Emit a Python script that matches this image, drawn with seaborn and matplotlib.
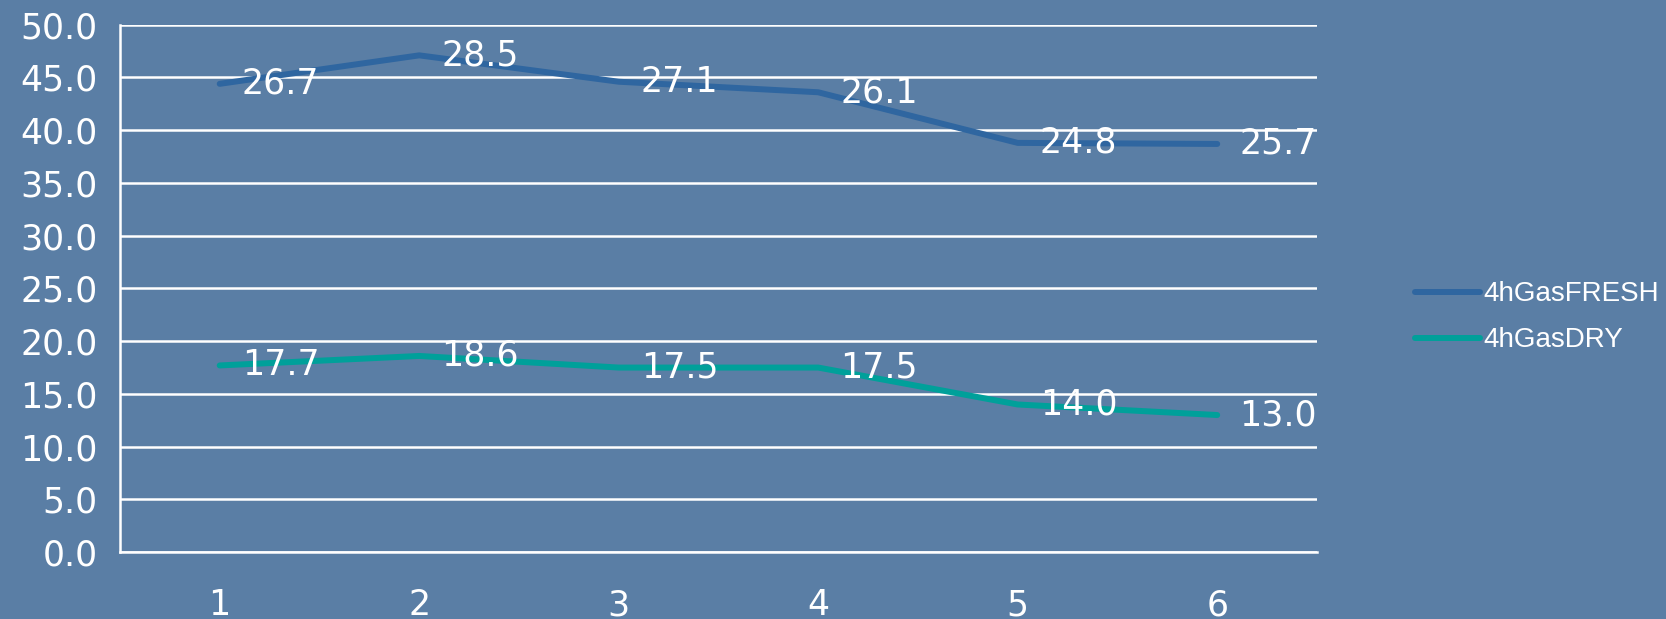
import numpy as np
import pandas as pd
import matplotlib
matplotlib.use("Agg")
import matplotlib.pyplot as plt
import seaborn as sns

# Veriler (yığılmış çizgi grafiği)
kategoriler = [1, 2, 3, 4, 5, 6]
gas_fresh = [26.7, 28.5, 27.1, 26.1, 24.8, 25.7]
gas_dry = [17.7, 18.6, 17.5, 17.5, 14.0, 13.0]
y_ticks = [0, 5, 10, 15, 20, 25, 30, 35, 40, 45, 50]

bg = "#5a7ea5"
c_fresh = "#2f66a0"
c_dry = "#00a09a"
fs = 25

sns.set_style("white")
plt.rcParams["font.family"] = ["DejaVu Sans"]

fig = plt.figure(figsize=(16.66, 6.19), dpi=100)
fig.patch.set_facecolor(bg)
ax = fig.add_axes([0.072, 0.108, 0.7185, 0.852])
ax.set_facecolor(bg)

yigin_fresh = [d + f for d, f in zip(gas_dry, gas_fresh)]
df = pd.DataFrame({
    "x": kategoriler * 2,
    "y": yigin_fresh + gas_dry,
    "seri": ["4hGasFRESH"] * 6 + ["4hGasDRY"] * 6,
})
sns.lineplot(data=df, x="x", y="y", hue="seri",
             palette={"4hGasFRESH": c_fresh, "4hGasDRY": c_dry},
             linewidth=4.3, ax=ax, legend=True, solid_capstyle="round")

# Veri etiketleri
for x, y, v in zip(kategoriler, yigin_fresh, gas_fresh):
    ax.annotate(f"{v:.1f}", (x, y), xytext=(16, 0), textcoords="offset points",
                ha="left", va="center", color="white", fontsize=fs)
for x, y, v in zip(kategoriler, gas_dry, gas_dry):
    ax.annotate(f"{v:.1f}", (x, y), xytext=(16, 0), textcoords="offset points",
                ha="left", va="center", color="white", fontsize=fs)

ax.set_xlim(0.5, 6.5)
ax.set_ylim(0, 50)
ax.set_yticks(y_ticks)
ax.set_yticklabels([f"{t:.1f}" for t in y_ticks], color="white", fontsize=fs)
ax.set_xticks(np.arange(0.5, 7, 1))
ax.set_xticklabels([])
ax.set_xticks(kategoriler, minor=True)
ax.set_xticklabels([str(k) for k in kategoriler], minor=True, color="white", fontsize=fs)
ax.tick_params(axis="x", which="major", length=12, width=1.5, color="white", direction="out")
ax.tick_params(axis="x", which="minor", length=0, pad=26)
ax.tick_params(axis="y", length=12, width=1.5, color="white", direction="out", pad=4)
ax.set_xlabel("")
ax.set_ylabel("")

ax.yaxis.grid(True, color="white", linewidth=1.8)
ax.set_axisbelow(True)
for s in ["top", "right"]:
    ax.spines[s].set_visible(False)
for s in ["left", "bottom"]:
    ax.spines[s].set_color("white")
    ax.spines[s].set_linewidth(1.8)

# Lejant (dar yazı tipi)
leg = ax.legend(loc="center left", bbox_to_anchor=(1.061, 0.445), frameon=False,
                prop={"family": ["Liberation Sans"], "size": 20},
                handlelength=2.35, handletextpad=0.1, labelspacing=0.72)
for t in leg.get_texts():
    t.set_color("white")

fig.savefig("out.png", dpi=100, facecolor=bg)
